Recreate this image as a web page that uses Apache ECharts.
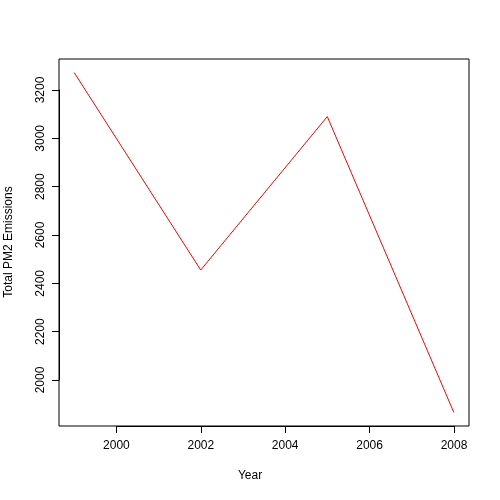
<!DOCTYPE html>
<html>
<head>
<meta charset="utf-8">
<script src="https://cdn.jsdelivr.net/npm/echarts@6/dist/echarts.min.js"></script>
<style>html,body{margin:0;padding:0;background:#fff}#c{width:500px;height:500px}</style>
</head>
<body>
<div id="c"></div>
<script>
var years = [1999, 2002, 2005, 2008];
var emissions = [3274.18, 2453.92, 3091.35, 1862.28];
var xTicks = [2000, 2002, 2004, 2006, 2008];
var yTicks = [2000, 2200, 2400, 2600, 2800, 3000, 3200];

var chart = echarts.init(document.getElementById('c'));
var font = {color: '#000', fontFamily: 'Liberation Sans, Arial', fontSize: 12,
    formatter: function (v) { return String(v); }};
var tickAxis = {axisLine: {show: true, lineStyle: {color: '#000'}},
    axisTick: {show: true, length: 7, lineStyle: {color: '#000'}},
    splitLine: {show: false}};

chart.setOption({
    animation: false,
    grid: [
        {left: 59, right: 31, top: 59, bottom: 74, show: true, borderColor: '#000', borderWidth: 1},
        // grid for tick marks only, spanning 2000..2008 and 2000..3200
        {left: 116.4, right: 46, top: 90, bottom: 120}
    ],
    xAxis: [
        {gridIndex: 0, type: 'value', min: 1998.64, max: 2008.36, show: false},
        Object.assign({gridIndex: 1, type: 'value', min: xTicks[0], max: xTicks[xTicks.length - 1],
            interval: 2, position: 'bottom', offset: 46,
            axisLabel: Object.assign({margin: 14}, font)}, tickAxis)
    ],
    yAxis: [
        {gridIndex: 0, type: 'value', min: 1805.8, max: 3330.7, show: false},
        Object.assign({gridIndex: 1, type: 'value', min: yTicks[0], max: yTicks[yTicks.length - 1],
            interval: 200, position: 'left', offset: 57.4,
            axisLabel: Object.assign({rotate: 90, margin: 12, align: 'center'}, font)}, tickAxis)
    ],
    graphic: [
        {type: 'text', left: 'center', top: 470, style: {text: 'Year', fill: '#000', font: '12px Liberation Sans'}},
        {type: 'text', x: 3, y: 242, rotation: Math.PI / 2, style: {text: 'Total PM2 Emissions', fill: '#000', font: '12px Liberation Sans', align: 'center', verticalAlign: 'top'}}
    ],
    series: [{
        type: 'line', xAxisIndex: 0, yAxisIndex: 0,
        data: years.map(function (y, i) { return [y, emissions[i]]; }),
        symbol: 'none', lineStyle: {color: '#ff0000', width: 1}
    }]
});
</script>
</body>
</html>
